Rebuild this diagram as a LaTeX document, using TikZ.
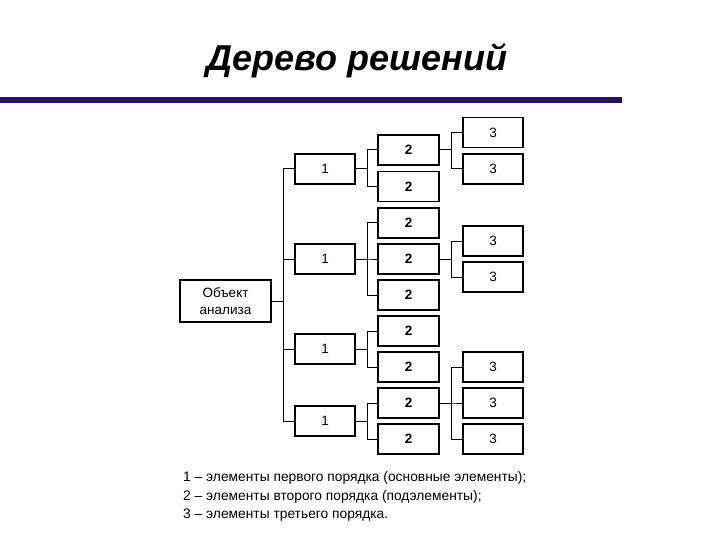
\documentclass[tikz,border=0pt]{standalone}
\usepackage{fontspec}
\setmainfont{Liberation Sans}
\definecolor{barcol}{RGB}{40,16,96}
\begin{document}
\begin{tikzpicture}[x=1pt,y=-1pt,
  box/.style={draw=black,line width=1.2pt,rectangle,inner sep=0pt,font=\fontsize{13.5}{16}\selectfont},
  lone/.style={box,minimum width=60pt,minimum height=30pt},
  ltwo/.style={box,minimum width=61pt,minimum height=30pt,font=\fontsize{13.5}{16}\selectfont\bfseries},
  lthree/.style={box,minimum width=60pt,minimum height=30pt},
  conn/.style={draw=black,line width=1pt},
  legend/.style={anchor=west,inner sep=0pt,font=\fontsize{13.8}{16}\selectfont}]
\useasboundingbox (0,0) rectangle (720,540);
\fill[white] (0,0) rectangle (720,540);
% title
\node[font=\fontsize{36}{42}\selectfont\bfseries\itshape] (title) at (357,61) {Дерево решений};
\fill[barcol] (0,97) rectangle (622,103);
% root
\node[box,minimum width=91pt,minimum height=42pt,align=center,font=\fontsize{13.5}{17}\selectfont] (root) at (225.5,301) {Объект\\анализа};
% level 1
\node[lone] (a1) at (325,169) {1};
\node[lone] (a2) at (325,259) {1};
\node[lone] (a3) at (325,349) {1};
\node[lone] (a4) at (325,421) {1};
% level 2
\node[ltwo] (b1) at (408.5,150) {2};
\node[ltwo] (b2) at (408.5,186.5) {2};
\node[ltwo] (b3) at (408.5,223) {2};
\node[ltwo] (b4) at (408.5,259) {2};
\node[ltwo] (b5) at (408.5,295) {2};
\node[ltwo] (b6) at (408.5,331) {2};
\node[ltwo] (b7) at (408.5,367) {2};
\node[ltwo] (b8) at (408.5,403) {2};
\node[ltwo] (b9) at (408.5,439) {2};
% level 3
\node[lthree] (c1) at (493,132.5) {3};
\node[lthree] (c2) at (493,169) {3};
\node[lthree] (c3) at (493,241) {3};
\node[lthree] (c4) at (493,277) {3};
\node[lthree] (c5) at (493,367) {3};
\node[lthree] (c6) at (493,403) {3};
\node[lthree] (c7) at (493,439) {3};
% connectors root -> level 1
\foreach \t in {a1,a2,a3,a4} \draw[conn] (root.east) -- ++(12,0) |- (\t.west);
% level1 -> level2
\foreach \t in {b1,b2} \draw[conn] (a1.east) -- ++(12,0) |- (\t.west);
\foreach \t in {b3,b4,b5} \draw[conn] (a2.east) -- ++(12,0) |- (\t.west);
\foreach \t in {b6,b7} \draw[conn] (a3.east) -- ++(12,0) |- (\t.west);
\foreach \t in {b8,b9} \draw[conn] (a4.east) -- ++(12,0) |- (\t.west);
% level2 -> level3
\foreach \t in {c1,c2} \draw[conn] (b1.east) -- ++(12,0) |- (\t.west);
\foreach \t in {c3,c4} \draw[conn] (b4.east) -- ++(12,0) |- (\t.west);
\foreach \t in {c5,c6,c7} \draw[conn] (b8.east) -- ++(12,0) |- (\t.west);
% legend
\node[legend] (l1) at (183,478) {1 – элементы первого порядка (основные элементы);};
\node[legend] (l2) at (183,496.5) {2 – элементы второго порядка (подэлементы);};
\node[legend] (l3) at (183,515) {3 – элементы третьего порядка.};
\end{tikzpicture}
\end{document}
